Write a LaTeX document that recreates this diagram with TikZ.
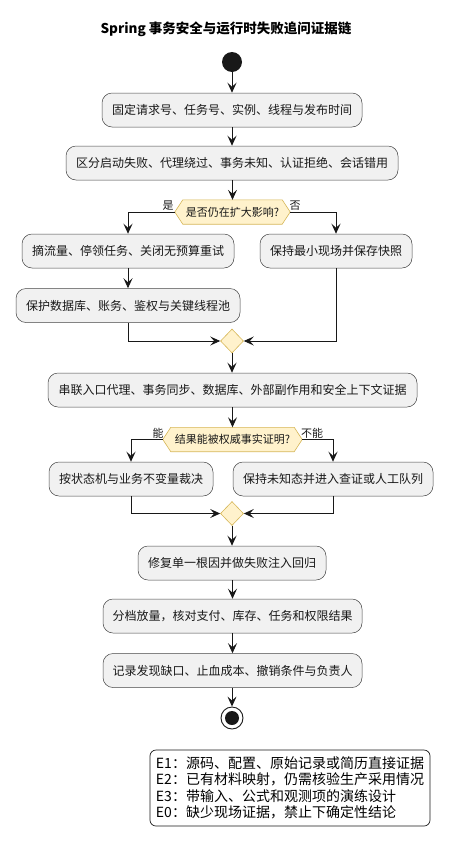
\documentclass[tikz,border=0pt]{standalone}
\usepackage{fontspec}
\setmainfont{Noto Sans CJK SC}
\usetikzlibrary{arrows.meta,shapes.geometric,backgrounds}
\definecolor{boxfill}{HTML}{F1F1F1}
\definecolor{lineclr}{HTML}{181818}
\definecolor{decfill}{HTML}{FFF2CC}
\definecolor{decline}{HTML}{D6B656}
\tikzset{
  stepbox/.style={draw=lineclr!80, line width=0.5pt, fill=boxfill, rounded corners=10pt,
    minimum height=34pt, inner sep=0pt, font=\fontsize{12}{14}\selectfont, text=lineclr},
  hexnode/.style={minimum height=24pt, inner sep=0pt, font=\fontsize{11}{13}\selectfont, text=lineclr},
  hexshape/.style={fill=decfill, draw=decline, line width=0.6pt},
  mergenode/.style={shape=diamond, fill=decfill, draw=decline, line width=0.6pt,
    minimum width=23pt, minimum height=24pt, inner sep=0pt},
  flow/.style={draw=lineclr, line width=0.9pt, -{Stealth[length=10pt,width=9pt,inset=4pt]}},
  branchlbl/.style={font=\fontsize{11}{13}\selectfont, text=lineclr, inner sep=0pt},
}
\begin{document}
\begin{tikzpicture}[x=1pt,y=-1pt]
\useasboundingbox (0,0) rectangle (452,849);
\node[font=\bfseries\fontsize{13.5}{15}\selectfont] (title) at (226,29) {Spring 事务安全与运行时失败追问证据链};

\node[circle, fill=lineclr, minimum size=20pt, inner sep=0pt] (start) at (232,62) {};

\node[stepbox, minimum width=260pt] (b1) at (232,110) {固定请求号、任务号、实例、线程与发布时间};
\node[stepbox, minimum width=332pt] (b2) at (232,163) {区分启动失败、代理绕过、事务未知、认证拒绝、会话错用};

\node[hexnode, minimum width=115pt] (d1) at (232.5,212) {是否仍在扩大影响?};
\begin{scope}[on background layer]
\draw[hexshape] (d1.west) -- ([xshift=8pt]d1.north west) -- ([xshift=-8pt]d1.north east) -- (d1.east) -- ([xshift=-8pt]d1.south east) -- ([xshift=8pt]d1.south west) -- cycle;
\end{scope}

\node[stepbox, minimum width=212pt] (b3) at (128,251) {摘流量、停领任务、关闭无预算重试};
\node[stepbox, minimum width=152pt] (b4) at (336,251) {保持最小现场并保存快照};
\node[stepbox, minimum width=224pt] (b5) at (128,305.5) {保护数据库、账务、鉴权与关键线程池};

\node[mergenode] (m1) at (232,341) {};

\node[stepbox, minimum width=369pt] (b6) at (232.5,390) {串联入口代理、事务同步、数据库、外部副作用和安全上下文证据};

\node[hexnode, minimum width=139pt] (d2) at (232.5,439.5) {结果能被权威事实证明?};
\begin{scope}[on background layer]
\draw[hexshape] (d2.west) -- ([xshift=8pt]d2.north west) -- ([xshift=-8pt]d2.north east) -- (d2.east) -- ([xshift=-8pt]d2.south east) -- ([xshift=8pt]d2.south west) -- cycle;
\end{scope}

\node[stepbox, minimum width=164pt] (b7) at (131,479) {按状态机与业务不变量裁决};
\node[stepbox, minimum width=200pt] (b8) at (333,479) {保持未知态并进入查证或人工队列};

\node[mergenode] (m2) at (232,513.5) {};

\node[stepbox, minimum width=188pt] (b9) at (232,563) {修复单一根因并做失败注入回归};
\node[stepbox, minimum width=259pt] (b10) at (232.5,616) {分档放量，核对支付、库存、任务和权限结果};
\node[stepbox, minimum width=259pt] (b11) at (232.5,670.5) {记录发现缺口、止血成本、撤销条件与负责人};

\node[circle, draw=lineclr, line width=0.9pt, fill=white, minimum size=22pt, inner sep=0pt] (stop) at (232,718) {};
\node[circle, fill=lineclr, minimum size=14pt, inner sep=0pt] (stopdot) at (stop.center) {};

% connectors
\draw[flow] (start) -- (b1);
\draw[flow] (b1) -- (b2);
\draw[flow] (b2.south -| d1.north) -- (d1.north);
\draw[flow] (d1.west) -| (b3.north);
\draw[flow] (d1.east) -| (b4.north);
\draw[flow] (b3) -- (b5);
\draw[flow] (b5.south) |- (m1.west);
\draw[flow] (b4.south) |- (m1.east);
\draw[flow] (m1) -- (b6.north -| m1.south);
\draw[flow] (b6.south -| d2.north) -- (d2.north);
\draw[flow] (d2.west) -| (b7.north);
\draw[flow] (d2.east) -| (b8.north);
\draw[flow] (b7.south) |- (m2.west);
\draw[flow] (b8.south) |- (m2.east);
\draw[flow] (m2) -- (b9.north -| m2.south);
\draw[flow] (b9.south -| b10.north) -- (b10.north);
\draw[flow] (b10) -- (b11);
\draw[flow] (b11.south -| stop.north) -- (stop.north);

% branch labels
\node[branchlbl] (l1) at (168,205.5) {是};
\node[branchlbl] (l2) at (295,205.5) {否};
\node[branchlbl] (l3) at (158,433) {能};
\node[branchlbl] (l4) at (312,433) {不能};

% legend
\node[draw=lineclr, line width=0.7pt, fill=white, rounded corners=6pt, align=left,
  inner xsep=6pt, inner ysep=4pt, font=\fontsize{14}{16.5}\selectfont, text=black,
  minimum width=280pt, minimum height=76pt] (legend) at (290,788)
  {E1：源码、配置、原始记录或简历直接证据\\
   E2：已有材料映射，仍需核验生产采用情况\\
   E3：带输入、公式和观测项的演练设计\\
   E0：缺少现场证据，禁止下确定性结论};
\end{tikzpicture}
\end{document}
